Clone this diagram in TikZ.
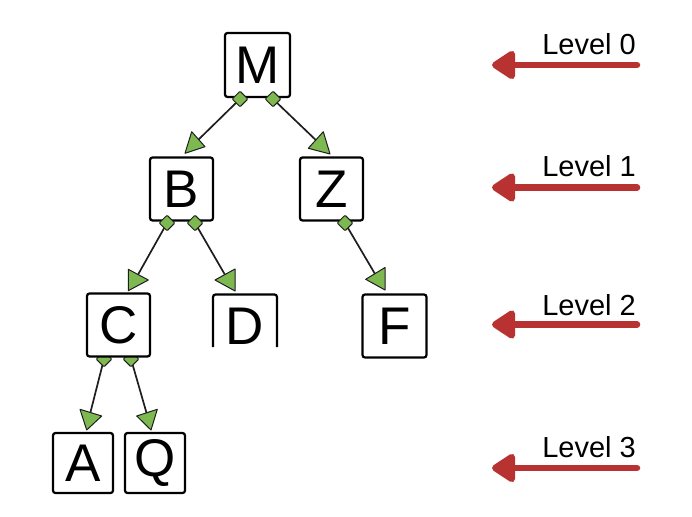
\documentclass[tikz,border=0pt]{standalone}
\usepackage{fontspec}
\setmainfont{Liberation Sans}
\usetikzlibrary{arrows.meta,shapes.geometric}
\definecolor{leafgreen}{RGB}{125,185,80}
\definecolor{levelred}{RGB}{184,50,50}
\definecolor{darkline}{RGB}{30,30,30}
\tikzset{
  box/.style={draw=black, line width=2.2pt, rounded corners=2.5pt, fill=white,
    minimum width=#1, minimum height=63pt, inner sep=0pt,
    font=\fontsize{53}{60}\selectfont},
  box/.default=63pt,
  knob/.style={diamond, draw=darkline, line width=1pt, fill=leafgreen,
    minimum width=16pt, minimum height=16pt, inner sep=0pt, rounded corners=1pt},
  tri/.style={draw=darkline, line width=1pt, fill=leafgreen, line join=round},
  link/.style={draw=darkline, line width=1.7pt},
  levelarrow/.style={draw=levelred, line width=6.5pt, line cap=round,
    -{Triangle[length=26pt,width=32pt,round]}},
  leveltext/.style={anchor=base east, inner sep=0pt, font=\fontsize{29}{32}\selectfont}
}
\begin{document}
\begin{tikzpicture}[x=1pt,y=-1pt]
\path[use as bounding box] (0,0) rectangle (692,516);

% connector end points
\coordinate (mL) at (240,99);
\coordinate (mR) at (273,99);
\coordinate (bL) at (167,223);
\coordinate (bR) at (195,223);
\coordinate (zK) at (345,223);
\coordinate (cL) at (104,359);
\coordinate (cR) at (131,359);
\coordinate (tB) at (194,144);
\coordinate (tZ) at (321,145);
\coordinate (tC) at (135,280);
\coordinate (tD) at (228,280);
\coordinate (tF) at (378,279);
\coordinate (tA) at (89,418);
\coordinate (tQ) at (148,418);

% connectors
\draw[link] (mL) -- (tB);
\draw[link] (mR) -- (tZ);
\draw[link] (bL) -- (tC);
\draw[link] (bR) -- (tD);
\draw[link] (zK) -- (tF);
\draw[link] (cL) -- (tA);
\draw[link] (cR) -- (tQ);

% arrow heads (triangles)
\draw[tri] (191.7,131.7) -- (205,146.7) -- (185,153.3) -- cycle;
\draw[tri] (323.3,131.7) -- (330,154) -- (308.3,148.3) -- cycle;
\draw[tri] (128.3,269.3) -- (148.3,280) -- (128.3,290.7) -- cycle;
\draw[tri] (235,269) -- (215,280) -- (235,291) -- cycle;
\draw[tri] (385,267.5) -- (365.7,279.3) -- (385,290) -- cycle;
\draw[tri] (80,409.3) -- (101.7,416) -- (86.7,430) -- cycle;
\draw[tri] (136.7,416) -- (157.3,409.3) -- (151,430) -- cycle;

% C knobs (partly under box)
\node[knob] (kCL) at (cL) {};
\node[knob] (kCR) at (cR) {};

% boxes
\node[box=65pt, minimum height=64pt] (M) at (257.5,65) {M};
\node[box] (B) at (181.5,189) {B};
\node[box] (Z) at (331.5,189) {Z};
\node[box] (C) at (118.5,325) {C};
\node[box=64pt] (F) at (394.5,326) {F};
\node[box=60pt, minimum height=60pt] (A) at (83,463) {A};
\node[box=60pt, minimum height=60pt] (Q) at (155,463) {Q};
\node[minimum width=64pt, minimum height=63pt, inner sep=0pt,
  font=\fontsize{53}{60}\selectfont] (D) at (245,326) {D};
\draw[line width=2.2pt, rounded corners=2.5pt]
  (213,347) -- (213,294.5) -- (277,294.5) -- (277,347);

% knobs on top
\node[knob] (kML) at (mL) {};
\node[knob] (kMR) at (mR) {};
\node[knob] (kBL) at (bL) {};
\node[knob] (kBR) at (bR) {};
\node[knob] (kZ) at (zK) {};

% levels
\coordinate (s0) at (637,65);   \coordinate (e0) at (492,65);
\coordinate (s1) at (637,187.5);\coordinate (e1) at (492,187.5);
\coordinate (s2) at (637,324.5);\coordinate (e2) at (492,324.5);
\coordinate (s3) at (637,468);  \coordinate (e3) at (492,468);
\draw[levelarrow] (s0) -- (e0);
\draw[levelarrow] (s1) -- (e1);
\draw[levelarrow] (s2) -- (e2);
\draw[levelarrow] (s3) -- (e3);
\node[leveltext] (L0) at (636,55) {Level 0};
\node[leveltext] (L1) at (636,176.5) {Level 1};
\node[leveltext] (L2) at (636,315) {Level 2};
\node[leveltext] (L3) at (636,457) {Level 3};
\end{tikzpicture}
\end{document}
